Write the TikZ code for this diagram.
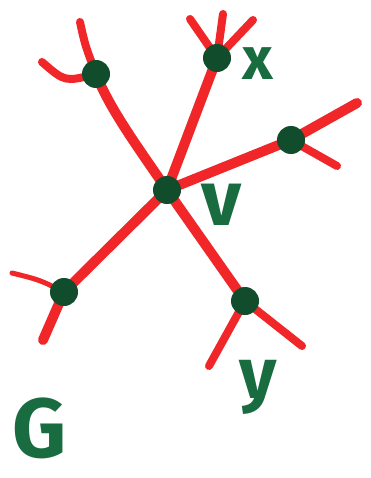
\documentclass[tikz,border=0pt]{standalone}
\usepackage{fontspec}
\setsansfont{Fira Sans}
\definecolor{pen}{RGB}{240,38,40}
\definecolor{ink}{RGB}{24,108,64}

\begin{document}
\begin{tikzpicture}[x=1pt,y=-1pt,
    edge/.style={pen, line width=10pt, line cap=round},
    stub/.style={pen, line width=8pt, line cap=round},
    vert/.style={circle, minimum size=28pt, inner sep=0pt},
    dot/.style={fill=ink!70!black},
    lbl/.style={ink, inner sep=0pt}]
    \useasboundingbox[fill=white] (0,0) rectangle (371,478);

    % vertices
    \node[vert, minimum size=30pt] (v) at (167,190) {};
    \node[vert] (a) at (96,74) {};
    \node[vert] (x) at (217,58) {};
    \node[vert] (c) at (291,140) {};
    \node[vert] (d) at (64,292) {};
    \node[vert] (y) at (245,301) {};

    % loose ends of the stubs
    \coordinate (a1) at (80,22);
    \coordinate (a2) at (42,62);
    \coordinate (x1) at (190,19);
    \coordinate (x2) at (223,14);
    \coordinate (x3) at (253,20);
    \coordinate (c1) at (357,103);
    \coordinate (c2) at (337,166);
    \coordinate (d1) at (12,273);
    \coordinate (d2) at (43,340);
    \coordinate (y1) at (209,366);
    \coordinate (y2) at (302,346);

    % edges at v
    \draw[edge] (v.center) .. controls (140,150) and (110,110) .. (a.center);
    \draw[edge] (v.center) -- (x.center);
    \draw[edge] (v.center) -- (c.center);
    \draw[edge] (v.center) -- (d.center);
    \draw[edge] (v.center) -- (y.center);

    % stubs
    \draw[stub] (a.center) .. controls (85,45) .. (a1);
    \draw[stub] (a.center) .. controls (65,82) .. (a2);
    \draw[stub] (x.center) -- (x1);
    \draw[stub] (x.center) -- (x2);
    \draw[stub] (x.center) -- (x3);
    \draw[edge] (c.center) -- (c1);
    \draw[stub] (c.center) -- (c2);
    \draw[stub, line width=5pt] (d.center) .. controls (40,280) .. (d1);
    \draw[edge] (d.center) -- (d2);
    \draw[stub] (y.center) -- (y1);
    \draw[stub] (y.center) -- (y2);

    % dots on top
    \foreach \n in {v,a,x,c,d,y}
        \fill[dot] (\n) circle (14pt);

    % labels
    \node[lbl, font=\sffamily\bfseries\fontsize{60}{60}\selectfont] (xl) at (258,64) {x};
    \node[lbl, font=\sffamily\bfseries\fontsize{78}{78}\selectfont] (vl) at (222,205) {v};
    \node[lbl, font=\sffamily\bfseries\fontsize{72}{72}\selectfont] (yl) at (258,387) {y};
    \node[lbl, font=\sffamily\bfseries\fontsize{84}{84}\selectfont] (gl) at (40,428) {G};
\end{tikzpicture}
\end{document}
